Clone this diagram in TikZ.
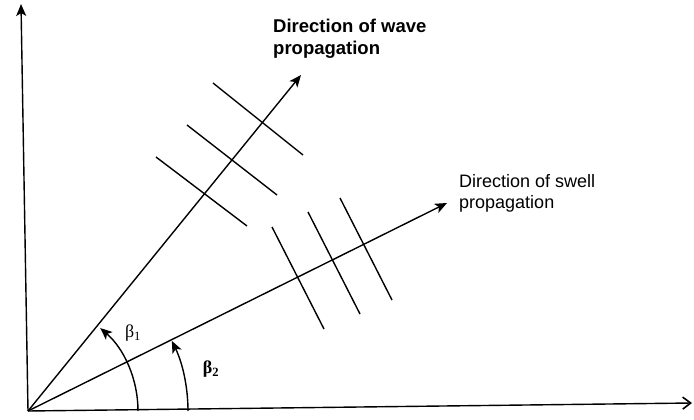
\documentclass[tikz,border=0pt]{standalone}
\usepackage{fontspec}
\setmainfont{Liberation Sans}
\newfontfamily\grkfont{Liberation Serif}
\usetikzlibrary{arrows.meta}
\begin{document}
\begin{tikzpicture}[x=1pt,y=-1pt,
  ln/.style={line width=1.4pt,black},
  arr/.style={ln,-{Stealth[length=12pt,width=10pt,inset=3pt]}},
  barb/.style={ln,-{Straight Barb[length=8pt,width=12pt,line width=1.6pt]}},
  lbl/.style={anchor=north west,inner sep=0pt,align=left,font=\fontsize{18}{21}\selectfont},
  wlbl/.style={lbl,font=\fontsize{18.5}{22}\selectfont\bfseries},
  betalbl/.style={inner sep=0pt,font=\fontsize{18}{20}\selectfont}]
\useasboundingbox (0,0) rectangle (694,420);
% axes
\coordinate (O) at (28,411);
\coordinate (xend) at (692,403);
\coordinate (yend) at (21,4);
\draw[barb] (O) -- (xend);
\draw[arr] (O) -- (yend);
% propagation directions
\coordinate (wtip) at (301,75);
\coordinate (stip) at (447,203);
\draw[arr] (O) -- (wtip);
\draw[arr] (O) -- (stip);
% wave crests
\coordinate (w1a) at (156,157); \coordinate (w1b) at (247,226);
\coordinate (w2a) at (187,125); \coordinate (w2b) at (277,195);
\coordinate (w3a) at (213,83);  \coordinate (w3b) at (303,155);
\draw[ln] (w1a) -- (w1b);
\draw[ln] (w2a) -- (w2b);
\draw[ln] (w3a) -- (w3b);
% swell crests
\coordinate (s1a) at (272,227); \coordinate (s1b) at (324,329);
\coordinate (s2a) at (308,212); \coordinate (s2b) at (360,314);
\coordinate (s3a) at (340,198); \coordinate (s3b) at (392,300);
\draw[ln] (s1a) -- (s1b);
\draw[ln] (s2a) -- (s2b);
\draw[ln] (s3a) -- (s3b);
% angle arcs
\draw[arr] ([shift={(0:110)}]O) arc[start angle=0,end angle=-49,radius=110];
\draw[arr] ([shift={(0:160)}]O) arc[start angle=0,end angle=-26,radius=160];
\node[betalbl] (b1) at (133,333) {\grkfont β\textsubscript{1}};
\node[betalbl] (b2) at (211,369) {\grkfont\bfseries β\textsubscript{2}};
% labels
\node[wlbl] (wavelbl) at (273,19) {Direction of wave\\propagation};
\node[lbl] (swelllbl) at (459,174) {Direction of swell\\propagation};
\end{tikzpicture}
\end{document}
